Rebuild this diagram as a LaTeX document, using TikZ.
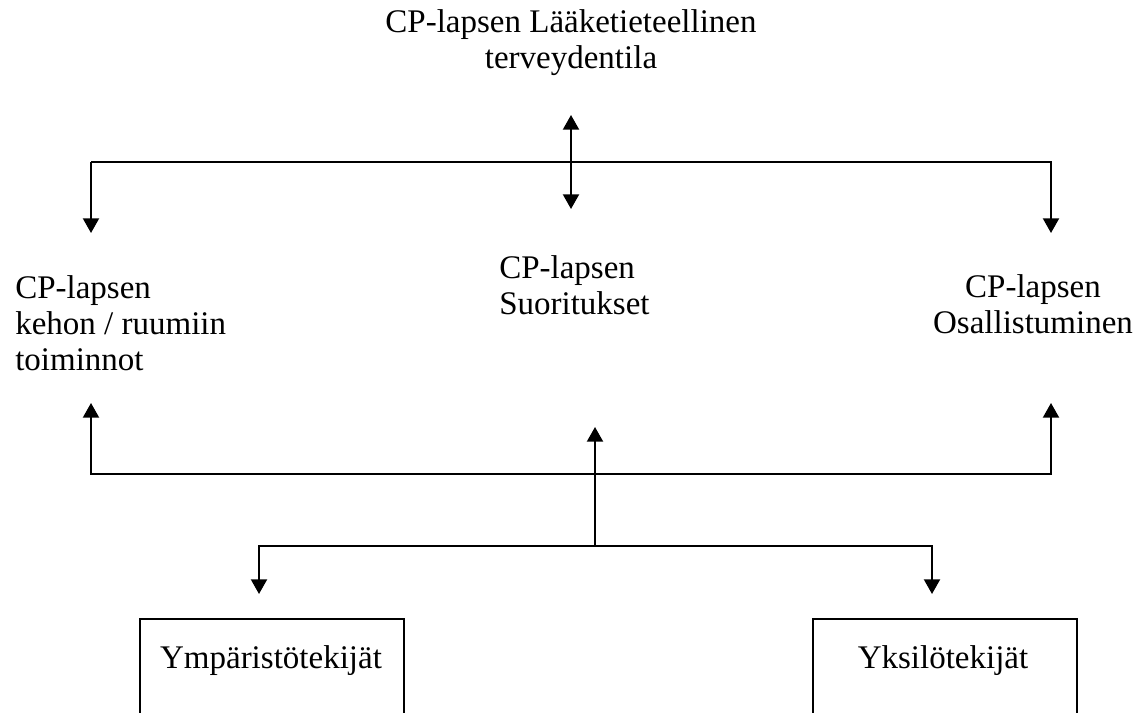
\documentclass[tikz,border=0pt]{standalone}
\usepackage{fontspec}
\setmainfont{Liberation Serif}
\usetikzlibrary{arrows.meta}
\begin{document}
\begin{tikzpicture}[x=0.75pt,y=-0.75pt,
  tip/.tip={Triangle[width=12pt,length=11pt]},
  conn/.style={line width=1.5pt,-tip},
  line/.style={line width=1.5pt},
  lbl/.style={font=\fontsize{24.75pt}{27pt}\selectfont, inner sep=0pt},
  framebox/.style={draw, line width=1.5pt, minimum width=198pt, minimum height=150pt, anchor=north west, inner sep=0pt}]
\clip (0,0) rectangle (1147,713);
\fill[white] (0,0) rectangle (1147,713);
% texts (anchor base = baseline of last line)
\node[lbl, align=center, anchor=base] (med) at (571,69) {CP-lapsen Lääketieteellinen\\terveydentila};
\node[lbl, align=left, anchor=base west] (body) at (15,370) {CP-lapsen\\kehon / ruumiin\\toiminnot};
\node[lbl, align=left, anchor=base west] (act) at (499,315) {CP-lapsen\\Suoritukset};
\node[lbl, align=center, anchor=base] (part) at (1033,334) {CP-lapsen\\Osallistuminen};
% boxes
\node[framebox] (envbox) at (139,618) {};
\node[lbl, anchor=base] (env) at (271,668) {Ympäristötekijät};
\node[framebox] (indbox) at (812,618) {};
\node[lbl, anchor=base] (ind) at (943,668) {Yksilötekijät};
% coordinates
\coordinate (mtop) at (571,115);
\coordinate (mbot) at (571,209);
\coordinate (jl) at (91,162);
\coordinate (jr) at (1051,162);
\coordinate (lt) at (91,233);
\coordinate (rt) at (1051,233);
\coordinate (bl) at (91,474);
\coordinate (br) at (1051,474);
\coordinate (lu) at (91,403);
\coordinate (ru) at (1051,403);
\coordinate (mu) at (595,427);
\coordinate (ms) at (595,546);
\coordinate (sl) at (259,546);
\coordinate (sr) at (932,546);
\coordinate (sld) at (259,594);
\coordinate (srd) at (932,594);
% upper connectors
\draw[line, tip-tip] (mtop) -- (mbot);
\draw[conn] (jl) -- (jr) -- (rt);
\draw[conn] (jl) -- (lt);
% lower connectors
\draw[conn] (br) -- (bl) -- (lu);
\draw[conn] (bl) -- (br) -- (ru);
\draw[conn] (ms) -- (mu);
\draw[conn] (ms) -- (sl) -- (sld);
\draw[conn] (ms) -- (sr) -- (srd);
\end{tikzpicture}
\end{document}
